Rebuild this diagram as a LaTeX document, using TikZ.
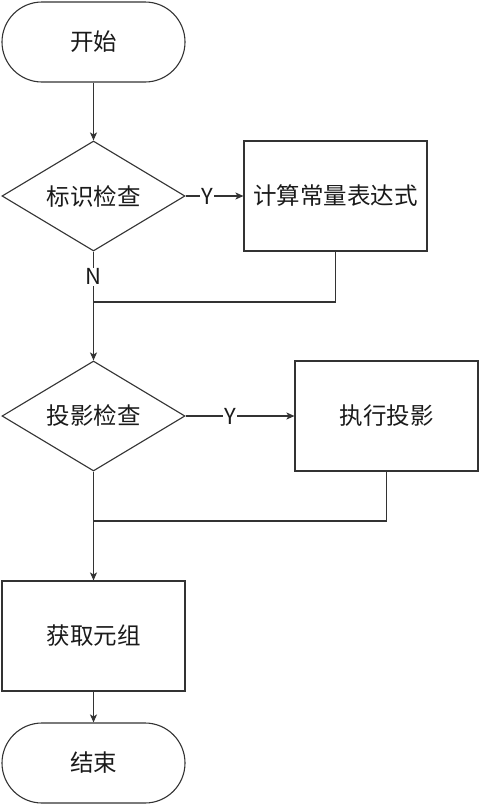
\documentclass[tikz,border=0pt]{standalone}
\usepackage{fontspec}
\setmainfont{Noto Sans CJK SC}
\usetikzlibrary{shapes.geometric,arrows.meta}
\definecolor{ln}{HTML}{333333}
\definecolor{tx}{HTML}{1A1A1A}
\begin{document}
\begin{tikzpicture}[x=1pt,y=-1pt,
  base/.style={draw=ln,line width=1.1pt,text=tx,font=\fontsize{23.5}{28}\selectfont,inner sep=0pt},
  term/.style={base,rounded corners=40pt,minimum width=183pt,minimum height=80pt},
  proc/.style={base,minimum width=183pt,minimum height=110pt},
  decide/.style={base,diamond,minimum width=183pt,minimum height=110pt,shape aspect=1.66},
  conn/.style={draw=ln,line width=1.1pt},
  arr/.style={conn,-{Stealth[length=8pt,width=7pt,inset=2pt]}},
  lbl/.style={fill=white,text=tx,font=\fontsize{22}{26}\selectfont,inner sep=1pt}]
\useasboundingbox (0,0) rectangle (480,806);
\node[term] (start) at (93.5,42) {开始};
\node[decide] (d1) at (93.5,196) {标识检查};
\node[proc] (b1) at (335.5,196) {计算常量表达式};
\node[decide] (d2) at (93.5,416) {投影检查};
\node[proc] (b2) at (386.5,416) {执行投影};
\node[proc] (b3) at (93.5,636) {获取元组};
\node[term] (end) at (93.5,763) {结束};
\coordinate (m1) at (93.5,302);
\coordinate (m2) at (93.5,521);
\draw[arr] (start) -- (d1);
\draw[arr] (d1) -- node[lbl,pos=0.37] (y1) {Y} (b1);
\draw[arr] (d1) -- node[lbl,pos=0.23] (n1) {N} (d2);
\draw[conn] (b1.south) |- (m1);
\draw[arr] (d2) -- node[lbl,pos=0.41] (y2) {Y} (b2);
\draw[arr] (d2) -- (b3);
\draw[conn] (b2.south) |- (m2);
\draw[arr] (b3) -- (end);
\end{tikzpicture}
\end{document}
